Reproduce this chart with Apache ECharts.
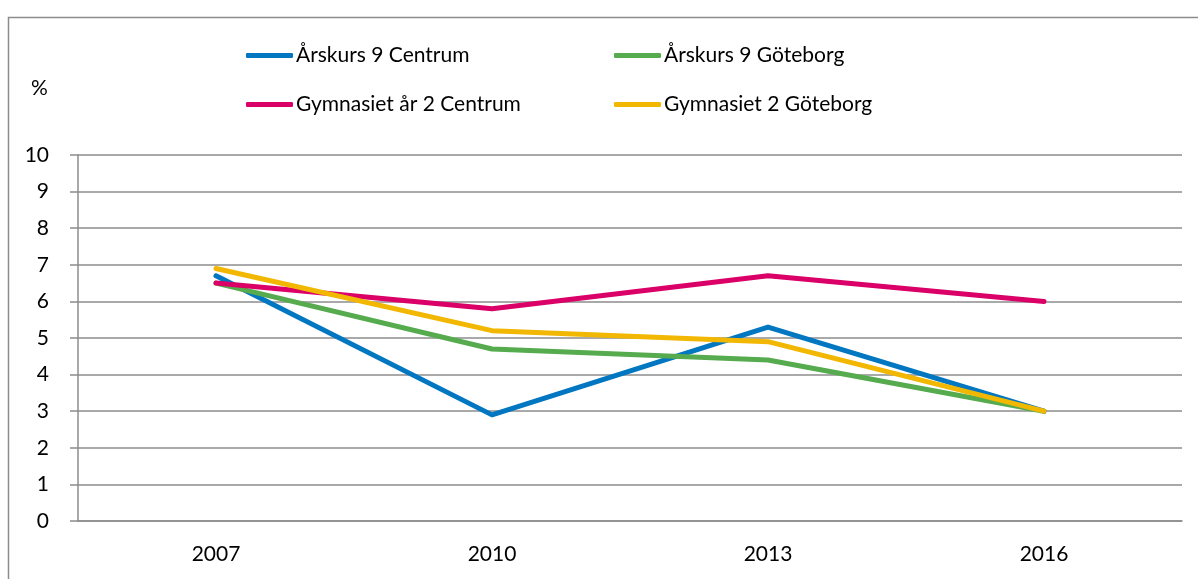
<!DOCTYPE html>
<html>
<head>
<meta charset="utf-8">
<script src="https://cdn.jsdelivr.net/npm/echarts@6/dist/echarts.min.js"></script>
<style>
  html, body { margin: 0; padding: 0; background: #fff; }
  #chart { width: 1198px; height: 579px; }
</style>
</head>
<body>
<div id="chart"></div>
<script>
const years = ['2007', '2010', '2013', '2016']
const ak9Centrum = [6.7, 2.9, 5.3, 3.0]
const ak9Goteborg = [6.5, 4.7, 4.4, 3.0]
const gy2Centrum = [6.5, 5.8, 6.7, 6.0]
const gy2Goteborg = [6.9, 5.2, 4.9, 3.0]
const yTicks = [0, 10, 1] // min, max, interval

const FONT = 'Lato, "Open Sans", sans-serif'
const GRAY = '#8c8c8c'

const chart = echarts.init(document.getElementById('chart'))

function lineSeries(name, data, color) {
  return {
    name: name,
    type: 'line',
    data: data,
    symbol: 'none',
    /*线条样式*/
    lineStyle: { width: 5, color: color, cap: 'round', join: 'round' },
    itemStyle: { color: color },
    emphasis: { disabled: true }
  }
}

const legendBase = {
  orient: 'vertical',
  top: 40,
  padding: 0,
  itemWidth: 47,
  itemHeight: 5,
  itemGap: 28,
  icon: 'roundRect',
  textStyle: { fontFamily: FONT, fontSize: 21, color: '#000', padding: [0, 0, 0, -2] }
}

chart.setOption({
  animation: false,
  backgroundColor: '#fff',
  title: {
    text: '%',
    left: 26,
    top: 73,
    textStyle: { fontFamily: FONT, fontSize: 21, fontWeight: 'normal', color: '#000' }
  },
  /*外框*/
  graphic: [{
    type: 'rect',
    shape: { x: 8.5, y: 17.5, width: 1220, height: 620 },
    style: { fill: 'none', stroke: GRAY, lineWidth: 1.5 },
    silent: true
  }],
  legend: [
    Object.assign({}, legendBase, { left: 246, top: 45, data: ['Årskurs 9 Centrum', 'Gymnasiet år 2 Centrum'] }),
    Object.assign({}, legendBase, { left: 614, top: 45, data: ['Årskurs 9 Göteborg', 'Gymnasiet 2 Göteborg'] })
  ],
  grid: { left: 78, right: 16, top: 155, bottom: 58 },
  xAxis: {
    type: 'category',
    data: years,
    boundaryGap: true,
    axisLine: { lineStyle: { color: GRAY, width: 1.5 } },
    axisTick: { length: 9, lineStyle: { color: GRAY, width: 1.5 } },
    axisLabel: { fontFamily: FONT, fontSize: 21, color: '#000', margin: 23 }
  },
  yAxis: {
    type: 'value',
    min: yTicks[0],
    max: yTicks[1],
    interval: yTicks[2],
    axisLine: { show: true, lineStyle: { color: GRAY, width: 1.5 } },
    axisTick: { show: true, length: 8, lineStyle: { color: GRAY, width: 1.5 } },
    axisLabel: { fontFamily: FONT, fontSize: 21, color: '#000', margin: 29 },
    splitLine: { lineStyle: { color: GRAY, width: 1.5 } }
  },
  series: [
    lineSeries('Årskurs 9 Centrum', ak9Centrum, '#0077c0'),
    lineSeries('Årskurs 9 Göteborg', ak9Goteborg, '#56ab4f'),
    lineSeries('Gymnasiet år 2 Centrum', gy2Centrum, '#da0068'),
    lineSeries('Gymnasiet 2 Göteborg', gy2Goteborg, '#f2b700')
  ]
})
</script>
</body>
</html>
